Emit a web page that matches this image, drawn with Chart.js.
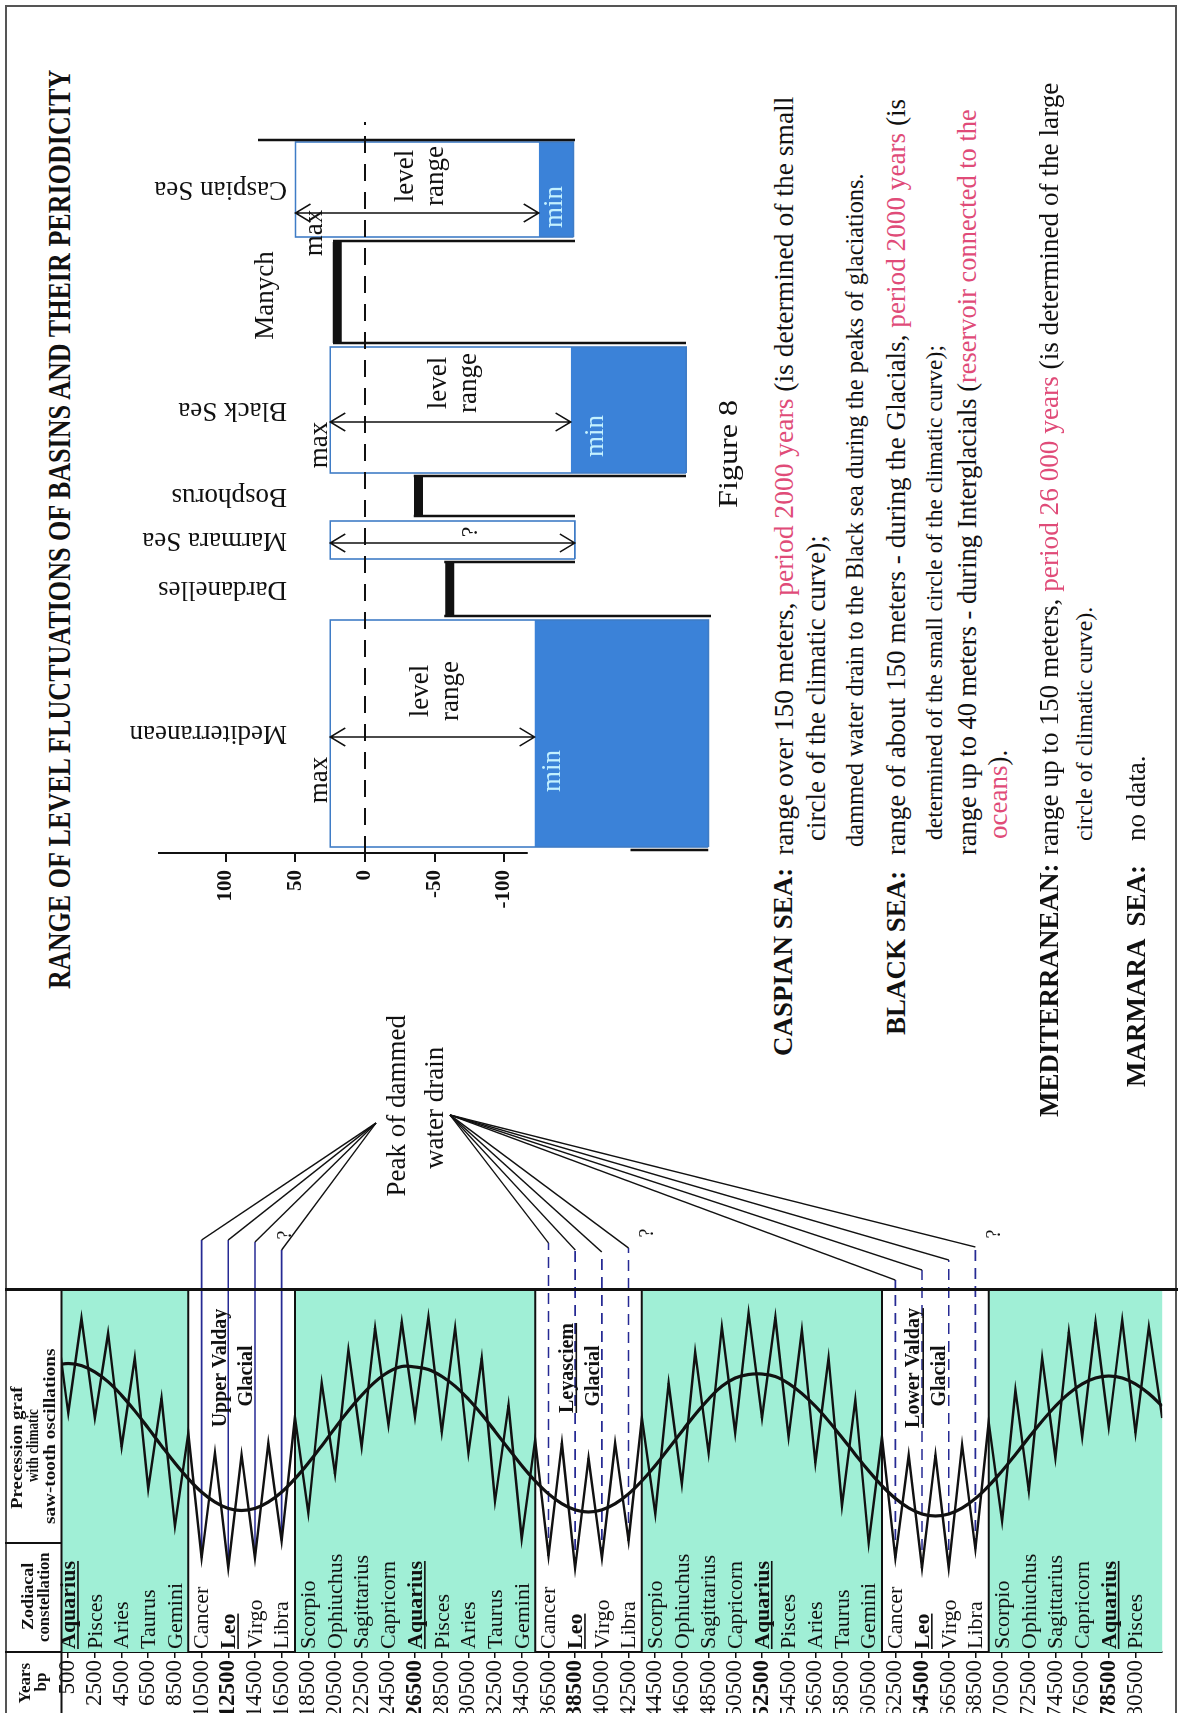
<!DOCTYPE html>
<html>
<head>
<meta charset="utf-8">
<title>Range of level fluctuations of basins and their periodicity</title>
<script src="https://cdn.jsdelivr.net/npm/chart.js@4.4.1/dist/chart.umd.min.js"></script>
<style>
  html, body { margin:0; padding:0; background:#fff; }
  body { width:1178px; height:1713px; position:relative; overflow:hidden; }
  /* the sheet is laid out landscape and turned a quarter turn onto the page */
  #fig { position:absolute; left:0; top:0; width:1713px; height:1178px;
         transform-origin:0 0; transform:translate(0px,1713px) rotate(-90deg);
         font-family:'Liberation Serif','Times New Roman',serif; color:#111; overflow:hidden; background:#fff; }
  #fig canvas { position:absolute; }
  .t { position:absolute; white-space:pre; line-height:1; transform-origin:0 0; }
  #frame { position:absolute; left:0; top:5px; width:1706px; height:1168px; border:2px solid #555; border-left:none; }
</style>
</head>
<body>
<div id="fig">
  <div id="frame"></div>
  <canvas id="precession" width="640" height="1178" style="left:0;top:0"></canvas>
  <canvas id="levels" width="830" height="640" style="left:790px;top:100px"></canvas>
</div>
<script>
const FONT = "'Liberation Serif', 'Times New Roman', serif";
const INK = '#111';
const PINK = '#e04b78';
const WATER = '#3b82d8';
const EDGE = '#3f7cc6';
const MINT = '#a0efd6';
const DRAIN = '#262a94';

/* ---------- basins: level ranges along the schematic profile (m) ---------- */
const basinNames  = ['Mediterranean', 'Dardanelles', 'Marmara Sea', 'Bosphorus', 'Black Sea', 'Manych', 'Caspian Sea'];
const profileFrom = [6, 238, 294, 338, 380, 510, 616];
const profileTo   = [233, 290, 332, 376, 506, 611, 711];
const levelMax    = [25, null, 25, null, 25, null, 50];
const levelMin    = [-122, null, -151, null, -148, null, -125];
const floorLevel  = [-247, null, null, null, -231, null, -150];
const sillLevel   = [null, -61, null, -38.5, null, 20, null];
const wallAt      = [3, 237, 291, 337, 377, 510, 612, 713];
const wallTop     = [-191, -57, -57, -35, -35, 23, 23, 77];
const wallBottom  = [-247, -249, -151, -151, -231, -231, -151, -151];
const levelTicks  = [100, 50, 0, -50, -100];
const rangeText   = [['level', 'range'], null, ['?'], null, ['level', 'range'], null, ['level', 'range']];

/* ---------- precession graph with saw-tooth oscillations ---------- */
const sampleYears = [-500, 500, 1500, 2500, 3500, 4500, 5500, 6500, 7500, 8500,
  9500, 10500, 11500, 12500, 13500, 14500, 15500, 16500, 17500, 18500,
  19500, 20500, 21500, 22500, 23500, 24500, 25500, 26500, 27500, 28500,
  29500, 30500, 31500, 32500, 33500, 34500, 35500, 36500, 37500, 38500,
  39500, 40500, 41500, 42500, 43500, 44500, 45500, 46500, 47500, 48500,
  49500, 50500, 51500, 52500, 53500, 54500, 55500, 56500, 57500, 58500,
  59500, 60500, 61500, 62500, 63500, 64500, 65500, 66500, 67500, 68500,
  69500, 70500, 71500, 72500, 73500, 74500, 75500, 76500, 77500, 78500,
  79500, 80500, 81500, 82500];
const sawLevel = [12.6, 2.4, 11.9, 1.9, 10.4, -1.0, 7.9, -5.2, 3.9, -8.9,
  0.4, -12.1, -1.6, -13.1, -1.8, -12.1, -0.6, -10.4, 2.0, -7.6,
  5.4, -3.7, 8.7, -1.0, 10.9, 1.2, 11.5, 2.0, 12.0, 0.5,
  10.9, -1.6, 7.9, -6.4, 3.2, -10.2, -0.3, -11.9, -0.6, -13.1,
  -2.1, -12.1, -0.6, -10.4, 1.9, -7.7, 5.4, -4.7, 8.5, -1.6,
  11.0, 0.4, 12.4, 1.9, 12.0, 0.0, 10.7, -2.6, 7.9, -6.9,
  3.7, -10.6, 0.0, -12.1, -1.8, -13.1, -1.8, -13.1, -0.8, -11.2,
  1.5, -8.4, 4.7, -5.4, 7.9, -2.1, 10.5, 0.0, 11.5, 1.0,
  11.7, 0.4, 11.0, 1.9];
const cycleLevel = [7.14, 7.35, 7.14, 6.50, 5.51, 4.17, 2.61, 0.89, -0.89, -2.61,
  -4.17, -5.51, -6.50, -7.14, -7.35, -7.14, -6.50, -5.51, -4.17, -2.61,
  -0.89, 0.89, 2.61, 4.17, 5.51, 6.50, 7.05, 7.00, 6.75, 6.07,
  5.09, 3.79, 2.26, 0.57, -1.17, -2.86, -4.39, -5.69, -6.67, -7.29,
  -7.50, -7.29, -6.67, -5.69, -4.39, -2.86, -1.17, 0.57, 2.26, 3.79,
  5.09, 5.90, 6.25, 6.30, 6.05, 5.35, 4.34, 3.08, 1.59, -0.05,
  -1.75, -3.39, -4.88, -6.14, -7.10, -7.70, -7.90, -7.70, -7.10, -6.14,
  -4.88, -3.39, -1.75, -0.05, 1.59, 3.08, 4.34, 5.30, 5.90, 6.10,
  5.90, 5.30, 4.34, 3.08];
const yearTicks = [500, 2500, 4500, 6500, 8500, 10500, 12500, 14500, 16500, 18500,
  20500, 22500, 24500, 26500, 28500, 30500, 32500, 34500, 36500, 38500,
  40500, 42500, 44500, 46500, 48500, 50500, 52500, 54500, 56500, 58500,
  60500, 62500, 64500, 66500, 68500, 70500, 72500, 74500, 76500, 78500, 80500];
const markedYears = [12500, 26500, 38500, 52500, 64500, 78500];
const zodiac = ['Aquarius', 'Pisces', 'Aries', 'Taurus', 'Gemini', 'Cancer', 'Leo', 'Virgo', 'Libra',
  'Scorpio', 'Ophiuchus', 'Sagittarius', 'Capricorn',
  'Aquarius', 'Pisces', 'Aries', 'Taurus', 'Gemini', 'Cancer', 'Leo', 'Virgo', 'Libra',
  'Scorpio', 'Ophiuchus', 'Sagittarius', 'Capricorn',
  'Aquarius', 'Pisces', 'Aries', 'Taurus', 'Gemini', 'Cancer', 'Leo', 'Virgo', 'Libra',
  'Scorpio', 'Ophiuchus', 'Sagittarius', 'Capricorn', 'Aquarius', 'Pisces'];
const glacialFrom  = [9500, 35500, 61500];
const glacialTo    = [17500, 43500, 69500];
const glacialTitle = [['Upper Valday', 'Glacial'], ['Leyasciem', 'Glacial'], ['Lower Valday', 'Glacial']];
const drainYears   = [[10500, 12500, 14500, 16500], [36500, 38500, 40500, 42500], [62500, 64500, 66500, 68500]];

/* ---------- layout of captions and leader lines (page pixels) ---------- */
const YEAR_END = 82500;
const DRAIN_END  = [[473, 473, 471, 463], [470, 463, 461, 465], [433, 443, 453, 466]];
const DRAIN_APEX = [[590, 376], [598, 450], [598, 450]];
const DRAIN_Q    = [[478, 286], [480, 648], [479, 995]];
const GLACIAL_UNDERLINE = [false, true, true];
const NAME_BASE = 187, NAME_UPRIGHT_BASE = 173;
const captionAt = {
  arrow: [116, null, 310, null, 431, null, 640],
  max:   [73, null, null, null, 408, null, 620],
  maxShift: [-3, 0, 0, 0, -3, 0, 26],
  range: [162, null, 321, null, 470, null, 677],
  min:   [82, null, null, null, 417, null, 646],
  minShift: [25, 0, 0, 0, 32, 0, 23]
};

Chart.defaults.font.family = FONT;

/* ---------- table cells, zodiac names, glacial bands and drain leaders ---------- */
const tableCells = {
  id: 'tableCells',
  beforeDatasetsDraw(chart) {
    const {ctx, chartArea: a, scales: {x, y}} = chart;
    ctx.save();
    const band = (y0, y1) => {
      const p0 = y.getPixelForValue(y0), p1 = y.getPixelForValue(y1);
      ctx.fillRect(a.left, p0, a.right - a.left, p1 - p0);
    };
    ctx.fillStyle = MINT;
    let prev = 0;
    glacialFrom.forEach((g, i) => { band(prev, g); prev = glacialTo[i]; });
    band(prev, YEAR_END);

    // glacial band borders
    ctx.strokeStyle = INK; ctx.lineWidth = 2;
    glacialFrom.concat(glacialTo).forEach(yr => {
      const p = y.getPixelForValue(yr);
      ctx.beginPath(); ctx.moveTo(a.left, p); ctx.lineTo(a.right, p); ctx.stroke();
    });

    // zodiacal constellations
    ctx.fillStyle = INK; ctx.textBaseline = 'middle'; ctx.textAlign = 'left';
    zodiac.forEach((name, i) => {
      const p = y.getPixelForValue(yearTicks[i]);
      const strong = name === 'Aquarius' || name === 'Leo';
      ctx.font = (strong ? 'bold ' : '') + '22px ' + FONT;
      ctx.fillText(name, a.left + 3, p + 1);
      if (strong) {
        const w = ctx.measureText(name).width;
        ctx.fillRect(a.left + 3, p + 9, w, 1.6);
      }
    });

    // drain markers at the saw-tooth minima of each glacial
    ctx.strokeStyle = DRAIN; ctx.lineWidth = 1.6;
    drainYears.forEach((group, g) => {
      ctx.setLineDash(g === 0 ? [] : [11, 7]);
      group.forEach((yr, k) => {
        const idx = sampleYears.indexOf(yr);
        const p = y.getPixelForValue(yr);
        ctx.beginPath();
        ctx.moveTo(x.getPixelForValue(sawLevel[idx]), p);
        ctx.lineTo(DRAIN_END[g][k], p);
        ctx.stroke();
      });
    });
    ctx.setLineDash([]);
    ctx.restore();
  },
  afterDatasetsDraw(chart) {
    const {ctx, chartArea: a, scales: {y}} = chart;
    ctx.save();
    // leaders from the drain markers to their caption
    ctx.strokeStyle = INK; ctx.lineWidth = 1.4;
    drainYears.forEach((group, g) => {
      group.forEach((yr, k) => {
        const p = y.getPixelForValue(yr);
        ctx.beginPath();
        ctx.moveTo(DRAIN_END[g][k], p);
        ctx.lineTo(DRAIN_APEX[g][0], DRAIN_APEX[g][1]);
        ctx.stroke();
      });
      ctx.font = '20px ' + FONT; ctx.fillStyle = INK;
      ctx.textAlign = 'center'; ctx.textBaseline = 'middle';
      ctx.fillText('?', DRAIN_Q[g][0], DRAIN_Q[g][1]);
    });

    // glacial names
    ctx.fillStyle = INK; ctx.textBaseline = 'alphabetic'; ctx.textAlign = 'left';
    ctx.font = 'bold 20px ' + FONT;
    glacialTitle.forEach((lines, g) => {
      const mid = (y.getPixelForValue(glacialFrom[g]) + y.getPixelForValue(glacialTo[g])) / 2;
      lines.forEach((txt, k) => {
        const base = mid + (k === 0 ? -16 : 10);
        const cx = k === 0 ? 345 : 337;
        const w = ctx.measureText(txt).width;
        ctx.fillText(txt, cx - w / 2, base);
        if (k === 0 && GLACIAL_UNDERLINE[g]) ctx.fillRect(cx - w / 2, base + 3, w, 1.6);
      });
    });

    // table rules
    ctx.fillStyle = INK;
    ctx.fillRect(a.right - 1, 5, 3, chart.height - 5);   // table edge
    ctx.fillRect(a.left - 1, 5, 2, a.top - 5);           // years column
    ctx.fillRect(0, a.top - 1, a.right, 2);              // header row
    ctx.fillRect(169, 5, 2, a.top - 5);                  // header divider
    ctx.restore();
  }
};

new Chart(document.getElementById('precession'), {
  type: 'line',
  data: {
    datasets: [
      { label: 'climatic saw-tooth oscillations',
        data: sampleYears.map((yr, i) => ({x: sawLevel[i], y: yr})),
        borderColor: INK, borderWidth: 2.4, pointRadius: 0, tension: 0, borderJoinStyle: 'miter', fill: false },
      { label: 'precession',
        data: sampleYears.map((yr, i) => ({x: cycleLevel[i], y: yr})),
        borderColor: INK, borderWidth: 3.2, pointRadius: 0, tension: 0.4, fill: false }
    ]
  },
  options: {
    responsive: false, animation: false, devicePixelRatio: 1,
    layout: { autoPadding: false, padding: {left: 0, top: 61.5, right: 217, bottom: 0} },
    plugins: { legend: {display: false}, tooltip: {enabled: false} },
    scales: {
      x: { type: 'linear', min: -21.5, max: 14.7, display: false },
      y: { type: 'linear', reverse: true, min: 0, max: YEAR_END,
           afterBuildTicks: s => { s.ticks = yearTicks.map(v => ({value: v})); },
           afterFit: s => { s.width = 61; },
           grid: { drawOnChartArea: false, drawTicks: true, tickLength: 6, color: INK, lineWidth: 1.5 },
           border: { display: true, color: INK, width: 2 },
           ticks: { autoSkip: false, padding: 2, color: INK, callback: v => String(v),
                    font: c => ({ family: FONT, size: 23,
                                  weight: (c.tick && markedYears.includes(c.tick.value)) ? 'bold' : 'normal' }) } }
    }
  },
  plugins: [tableCells]
});

/* ---------- level profile ---------- */
function seg(points, style) {
  return Object.assign({ data: points, pointRadius: 0, tension: 0, fill: false,
                         borderColor: 'rgba(0,0,0,0)', borderWidth: 0 }, style);
}
function buildProfile() {
  const top = [], edges = [], fills = [];
  top.push(seg([{x: 0, y: 0}, {x: 731, y: 0}], {borderColor: INK, borderWidth: 2, borderDash: [17, 11]}));
  top.push(seg([{x: 0, y: 149}, {x: 0, y: -117}], {borderColor: INK, borderWidth: 2, clip: false}));
  basinNames.forEach((n, i) => {
    if (sillLevel[i] !== null) {
      top.push(seg([{x: profileFrom[i], y: sillLevel[i]}, {x: profileTo[i], y: sillLevel[i]}],
                   {borderColor: INK, borderWidth: 9, borderCapStyle: 'butt'}));
    }
  });
  wallAt.forEach((w, k) => top.push(seg([{x: w, y: wallTop[k]}, {x: w, y: wallBottom[k]}],
                                        {borderColor: INK, borderWidth: 2.5})));
  basinNames.forEach((n, i) => {
    if (levelMax[i] === null) return;
    const a = profileFrom[i], b = profileTo[i];
    const low = floorLevel[i] !== null ? floorLevel[i] : levelMin[i];
    edges.push(seg([{x: a, y: low}, {x: a, y: levelMax[i]}, {x: b, y: levelMax[i]}, {x: b, y: low}, {x: a, y: low}],
                   {borderColor: EDGE, borderWidth: 1.6}));
    fills.push(seg([{x: a, y: levelMax[i]}, {x: b, y: levelMax[i]}], {fill: '+1', backgroundColor: '#ffffff'}));
    fills.push(seg([{x: a, y: levelMin[i]}, {x: b, y: levelMin[i]}], {}));
    if (floorLevel[i] !== null) {
      fills.push(seg([{x: a, y: levelMin[i]}, {x: b, y: levelMin[i]}], {fill: '+1', backgroundColor: WATER}));
      fills.push(seg([{x: a, y: floorLevel[i]}, {x: b, y: floorLevel[i]}], {}));
    }
  });
  return top.concat(edges, fills);
}

function doubleArrow(ctx, x, y0, y1) {
  ctx.lineWidth = 1.5;
  ctx.beginPath();
  ctx.moveTo(x, y0); ctx.lineTo(x, y1);
  ctx.moveTo(x - 9, y0 + 15); ctx.lineTo(x, y0); ctx.lineTo(x + 9, y0 + 15);
  ctx.moveTo(x - 9, y1 - 15); ctx.lineTo(x, y1); ctx.lineTo(x + 9, y1 - 15);
  ctx.stroke();
}

const levelNotes = {
  id: 'levelNotes',
  afterDatasetsDraw(chart) {
    const {ctx, scales: {x, y}} = chart;
    const px = v => x.getPixelForValue(v), py = v => y.getPixelForValue(v);
    ctx.save();
    ctx.fillStyle = INK; ctx.strokeStyle = INK;
    ctx.font = '27px ' + FONT;
    basinNames.forEach((name, i) => {
      const cx = px((profileFrom[i] + profileTo[i]) / 2);
      if (name === 'Manych') {
        ctx.textAlign = 'center'; ctx.textBaseline = 'alphabetic';
        ctx.fillText(name, cx - 3, NAME_UPRIGHT_BASE);
      } else {
        ctx.save();
        ctx.translate(cx, NAME_BASE); ctx.rotate(-Math.PI / 2);
        ctx.textAlign = 'left'; ctx.textBaseline = 'middle';
        ctx.fillText(name, 0, 0);
        ctx.restore();
      }
    });
    basinNames.forEach((name, i) => {
      if (levelMax[i] === null) return;
      const yTop = py(levelMax[i]), yLow = py(levelMin[i]);
      ctx.strokeStyle = INK;
      doubleArrow(ctx, px(captionAt.arrow[i]), yTop, yLow);
      ctx.textAlign = 'center'; ctx.textBaseline = 'alphabetic';
      const mid = (yTop + yLow) / 2;
      const lines = rangeText[i];
      ctx.fillStyle = INK;
      if (lines.length === 2) {
        ctx.font = '27px ' + FONT;
        ctx.fillText(lines[0], px(captionAt.range[i]), mid - 4);
        ctx.fillText(lines[1], px(captionAt.range[i]), mid + 26);
      } else {
        ctx.font = '24px ' + FONT;
        ctx.fillText(lines[0], px(captionAt.range[i]), mid + 24);
      }
      ctx.font = '27px ' + FONT;
      if (captionAt.max[i] !== null) {
        ctx.fillText('max', px(captionAt.max[i]), yTop + captionAt.maxShift[i]);
      }
      if (captionAt.min[i] !== null) {
        ctx.fillStyle = '#c4f1ff';
        ctx.fillText('min', px(captionAt.min[i]), yLow + captionAt.minShift[i]);
      }
    });
    ctx.restore();
  }
};

new Chart(document.getElementById('levels'), {
  type: 'line',
  data: { datasets: buildProfile() },
  options: {
    responsive: false, animation: false, devicePixelRatio: 1,
    layout: { autoPadding: false, padding: {left: 0, top: 21.75, right: 20, bottom: 27.5} },
    plugins: { legend: {display: false}, tooltip: {enabled: false} },
    scales: {
      x: { type: 'linear', min: 0, max: 740, display: false },
      y: { type: 'linear', min: -250, max: 175,
           afterBuildTicks: s => { s.ticks = levelTicks.map(v => ({value: v})); },
           afterFit: s => { s.width = 70; },
           grid: { drawOnChartArea: false, drawTicks: true, tickLength: 9, color: INK, lineWidth: 2 },
           border: { display: false },
           ticks: { padding: 8, color: INK, font: {family: FONT, size: 21, weight: 'bold'}, callback: v => String(v) } }
    }
  },
  plugins: [levelNotes]
});

/* ---------- headings and notes ---------- */
const fig = document.getElementById('fig');
// o.u: left edge (or centre); o.fit: stretch to this width; o.end: size the type so the line ends here
function put(parts, o) {
  let size = o.size || 27;
  const d = document.createElement('div');
  d.className = 't';
  d.style.fontSize = size + 'px';
  if (o.bold) d.style.fontWeight = 'bold';
  parts.forEach(p => {
    const s = document.createElement('span');
    if (typeof p === 'string') { s.textContent = p; }
    else {
      s.textContent = p.t;
      if (p.c) s.style.color = p.c;
      if (p.b) s.style.fontWeight = 'bold';
    }
    d.appendChild(s);
  });
  fig.appendChild(d);
  let w = d.offsetWidth;
  if (o.end) {
    size = size * (o.end - o.u) / w;
    d.style.fontSize = size + 'px';
    w = d.offsetWidth;
  }
  const sx = o.fit ? o.fit / w : 1;
  const width = w * sx;
  let left = o.u;
  if (o.align === 'center') left = o.u - width / 2;
  d.style.left = left + 'px';
  d.style.top = (o.base - 0.8375 * size) + 'px';
  if (sx !== 1) d.style.transform = 'scaleX(' + sx + ')';
}

put(['RANGE OF LEVEL FLUCTUATIONS OF BASINS AND THEIR PERIODICITY'], {u: 724, base: 70, size: 32, bold: true, fit: 919});

put(['Precession graf'], {u: 265, align: 'center', base: 22, size: 17, bold: true, fit: 123});
put(['with climatic'], {u: 267, align: 'center', base: 38, size: 17, bold: true, fit: 73});
put(['saw-tooth oscillations'], {u: 276, align: 'center', base: 55, size: 17, bold: true, fit: 175});
put(['Zodiacal'], {u: 116, align: 'center', base: 33, size: 17, bold: true, fit: 67});
put(['constellation'], {u: 116, align: 'center', base: 49, size: 17, bold: true, fit: 90});
put(['Years'], {u: 30, align: 'center', base: 30, size: 17, bold: true});
put(['bp'], {u: 31, align: 'center', base: 46, size: 17, bold: true});

put(['Peak of dammed'], {u: 607, align: 'center', base: 406, size: 27});
put(['water drain'], {u: 605, align: 'center', base: 444, size: 27});
put(['Figure 8'], {u: 1205, base: 737, size: 28, fit: 108});

put([{t: 'CASPIAN SEA:', b: true}], {u: 657, base: 793});
put(['range over 150 meters, ', {t: 'period 2000 years', c: PINK}, ' (is determined of the small'], {u: 858, end: 1617, base: 793});
put(['circle of the climatic curve);'], {u: 872, base: 826});
put(['dammed water drain to the Black sea during the peaks of glaciations.'], {u: 866, end: 1540, base: 863});
put([{t: 'BLACK SEA:', b: true}], {u: 678, base: 906});
put(['range of about 150 meters - during the Glacials, ', {t: 'period 2000 years', c: PINK}, ' (is'], {u: 858, end: 1615, base: 906});
put(['determined of the small circle of the climatic curve);'], {u: 873, end: 1368, base: 943});
put(['range up to 40 meters - during Interglacials (', {t: 'reservoir connected to the', c: PINK}], {u: 858, end: 1604, base: 976});
put([{t: 'oceans', c: PINK}, ').'], {u: 874, base: 1008});
put([{t: 'MEDITERRANEAN:', b: true}], {u: 596, base: 1059});
put(['range up to 150 meters, ', {t: 'period 26 000 years', c: PINK}, ' (is determined of the large'], {u: 858, end: 1631, base: 1059});
put(['circle of climatic curve).'], {u: 872, end: 1106, base: 1093});
put([{t: 'MARMARA  SEA:', b: true}], {u: 626, base: 1146});
put(['no data.'], {u: 872, base: 1146});
</script>
</body>
</html>
